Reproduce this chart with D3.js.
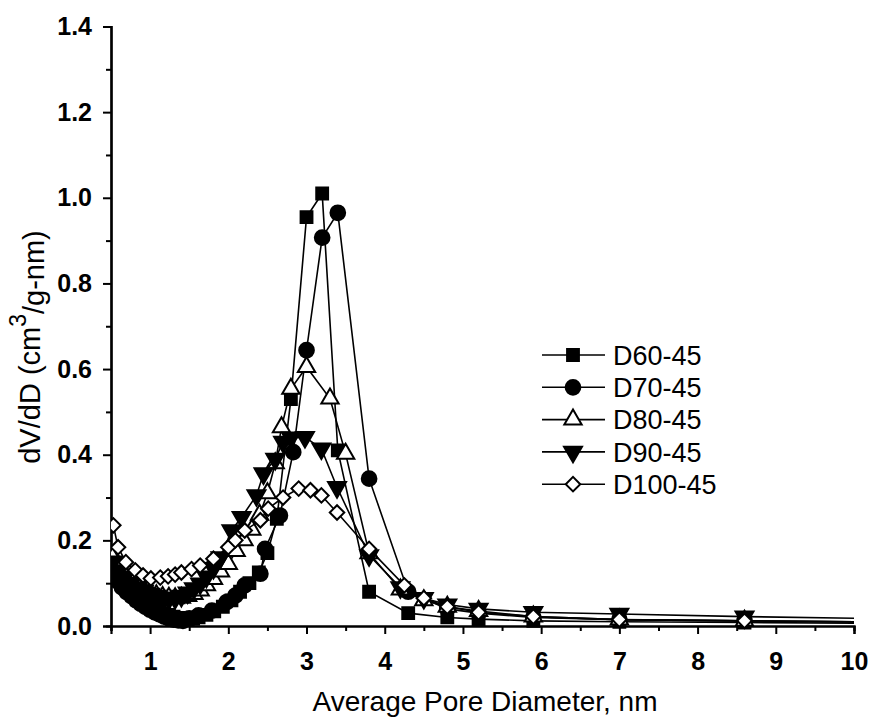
<!DOCTYPE html>
<html>
<head>
<meta charset="utf-8">
<script src="https://cdn.jsdelivr.net/npm/d3@7"></script>
<style>
  html, body { margin: 0; padding: 0; background: #fff; }
  svg { display: block; }
  text { font-family: "Liberation Sans", Arial, sans-serif; fill: #000; }
</style>
</head>
<body>
<svg id="chart" width="874" height="724"></svg>
<script>
// ---------------- DATA ----------------
const seriesNames = ["D60-45", "D70-45", "D80-45", "D90-45", "D100-45"];

const d60x = [0.52,0.58,0.64,0.70,0.76,0.82,0.88,0.94,1.00,1.06,1.12,1.18,1.24,1.30,1.36,1.42,1.48,1.55,1.62,1.72,1.82,1.93,2.04,2.15,2.27,2.39,2.50,2.62,2.80,3.00,3.20,3.40,3.80,4.30,4.80,5.20,5.90,7.00,8.60,11.5];
const d60y = [0.130,0.115,0.100,0.088,0.078,0.068,0.060,0.052,0.046,0.040,0.035,0.030,0.026,0.022,0.019,0.017,0.016,0.017,0.020,0.026,0.034,0.045,0.060,0.080,0.100,0.125,0.170,0.250,0.530,0.955,1.010,0.410,0.080,0.030,0.020,0.016,0.012,0.010,0.008,0.005];

const d70x = [0.52,0.58,0.64,0.70,0.76,0.82,0.88,0.94,1.00,1.06,1.12,1.18,1.24,1.30,1.36,1.42,1.50,1.62,1.79,1.98,2.09,2.21,2.41,2.47,2.66,2.83,3.00,3.20,3.40,3.80,4.30,4.80,5.20,5.90,7.00,8.60,11.5];
const d70y = [0.120,0.105,0.090,0.079,0.070,0.060,0.052,0.045,0.038,0.032,0.027,0.022,0.018,0.015,0.013,0.012,0.018,0.025,0.036,0.056,0.071,0.095,0.122,0.180,0.258,0.406,0.644,0.907,0.965,0.344,0.080,0.040,0.030,0.020,0.015,0.012,0.007];

const d80x = [0.52,0.60,0.68,0.76,0.84,0.92,1.00,1.08,1.16,1.24,1.32,1.40,1.48,1.56,1.64,1.72,1.81,1.90,2.00,2.10,2.20,2.30,2.40,2.50,2.60,2.68,2.80,3.00,3.30,3.50,3.80,4.20,4.50,4.80,5.20,5.90,7.00,8.60,11.5];
const d80y = [0.160,0.140,0.120,0.105,0.095,0.085,0.078,0.072,0.068,0.066,0.065,0.066,0.070,0.075,0.083,0.095,0.110,0.127,0.145,0.175,0.200,0.225,0.260,0.310,0.380,0.464,0.554,0.605,0.531,0.402,0.170,0.085,0.060,0.045,0.035,0.022,0.015,0.012,0.007];

const d90x = [0.52,0.60,0.68,0.76,0.84,0.92,1.00,1.08,1.16,1.24,1.32,1.40,1.48,1.56,1.64,1.72,1.81,1.90,2.04,2.17,2.36,2.45,2.60,2.70,2.80,2.98,3.19,3.39,3.80,4.20,4.50,4.80,5.20,5.90,7.00,8.60,11.5];
const d90y = [0.150,0.130,0.115,0.100,0.090,0.082,0.075,0.070,0.066,0.064,0.065,0.070,0.078,0.088,0.099,0.115,0.135,0.160,0.223,0.254,0.305,0.356,0.390,0.430,0.440,0.441,0.414,0.324,0.165,0.090,0.065,0.050,0.040,0.032,0.028,0.022,0.014];

const d100x = [0.53,0.59,0.69,0.81,0.91,1.01,1.13,1.23,1.32,1.40,1.53,1.64,1.81,2.00,2.09,2.21,2.41,2.51,2.70,2.90,3.05,3.19,3.39,3.80,4.25,4.50,4.80,5.20,5.90,7.00,8.60,11.5];
const d100y = [0.235,0.184,0.149,0.130,0.118,0.111,0.113,0.116,0.120,0.125,0.133,0.141,0.157,0.184,0.200,0.223,0.247,0.274,0.300,0.321,0.317,0.305,0.265,0.180,0.095,0.065,0.045,0.032,0.022,0.015,0.012,0.007];

const xTicks = [1,2,3,4,5,6,7,8,9,10];
const yTicks = [0.0,0.2,0.4,0.6,0.8,1.0,1.2,1.4];

// ---------------- CHART ----------------
const svg = d3.select("#chart");
const x = d3.scaleLinear().domain([0.5, 10]).range([111, 854]);
const y = d3.scaleLinear().domain([0, 1.4]).range([626, 26.5]);

const allX = [d60x, d70x, d80x, d90x, d100x];
const allY = [d60y, d70y, d80y, d90y, d100y];
const series = seriesNames.map((name, i) => ({
  name,
  points: allX[i].map((xv, j) => ({ x: xv, y: allY[i][j] }))
}));

const markerStyles = [
  { type: d3.symbolSquare, size: 140, rot: 0, fill: "#000" },
  { type: d3.symbolCircle, size: 170, rot: 0, fill: "#000" },
  { type: d3.symbolTriangle, size: 130, rot: 0, fill: "#fff" },
  { type: d3.symbolTriangle, size: 140, rot: 180, fill: "#000" },
  { type: d3.symbolSquare, size: 105, rot: 45, fill: "#fff" }
];

// clip to plot area
svg.append("defs").append("clipPath").attr("id", "plotclip")
  .append("rect").attr("x", x(0.5)).attr("y", 0)
  .attr("width", x(10) - x(0.5)).attr("height", y(0) + 10);

// axes
const xAxis = d3.axisBottom(x).tickValues(xTicks).tickSize(8).tickPadding(18).tickFormat(d3.format("d"));
const xMinor = d3.axisBottom(x).tickValues(d3.range(0.5, 10.01, 0.5).filter(v => Math.abs(v - Math.round(v)) > 0.01)).tickSize(5).tickFormat("");
const yAxis = d3.axisLeft(y).tickValues(yTicks).tickSize(8).tickPadding(11).tickFormat(d3.format(".1f"));
const yMinor = d3.axisLeft(y).tickValues(d3.range(0.1, 1.4, 0.2)).tickSize(5).tickFormat("");

function styleAxis(g) {
  g.select(".domain").attr("stroke", "#000").attr("stroke-width", 2.2);
  g.selectAll(".tick line").attr("stroke", "#000").attr("stroke-width", 2);
  g.selectAll(".tick text").style("font-size", "25px").style("font-weight", "bold").attr("fill", "#000");
}

svg.append("g").attr("transform", `translate(0,${y(0)})`).call(xMinor).call(styleAxis);
svg.append("g").attr("transform", `translate(0,${y(0)})`).call(xAxis).call(styleAxis);
svg.append("g").attr("transform", `translate(${x(0.5)},0)`).call(yMinor).call(styleAxis);
svg.append("g").attr("transform", `translate(${x(0.5)},0)`).call(yAxis).call(styleAxis);

// lines and markers
const line = d3.line().x(d => x(d.x)).y(d => y(d.y));
const plot = svg.append("g").attr("clip-path", "url(#plotclip)");
series.forEach((s, i) => {
  const g = plot.append("g");
  g.append("path").datum(s.points).attr("d", line)
    .attr("fill", "none").attr("stroke", "#000").attr("stroke-width", 1.6);
  const m = markerStyles[i];
  g.selectAll("path.mk").data(s.points).enter().append("path").attr("class", "mk")
    .attr("d", d3.symbol().type(m.type).size(m.size))
    .attr("transform", d => `translate(${x(d.x)},${y(d.y)}) rotate(${m.rot})`)
    .attr("fill", m.fill).attr("stroke", "#000").attr("stroke-width", 2);
});

// legend
const legend = svg.append("g");
const legY0 = 355, legDY = 32.3;
series.forEach((s, i) => {
  const ly = legY0 + i * legDY;
  legend.append("line").attr("x1", 542).attr("x2", 605).attr("y1", ly).attr("y2", ly)
    .attr("stroke", "#000").attr("stroke-width", 1.6);
  const m = markerStyles[i];
  legend.append("path").attr("d", d3.symbol().type(m.type).size(m.size))
    .attr("transform", `translate(573,${ly}) rotate(${m.rot})`)
    .attr("fill", m.fill).attr("stroke", "#000").attr("stroke-width", 2);
  legend.append("text").attr("x", 613).attr("y", ly).attr("dy", "0.36em")
    .style("font-size", "27px").text(s.name);
});

// axis titles
svg.append("text").attr("x", 485).attr("y", 711)
  .attr("text-anchor", "middle").style("font-size", "28px").text("Average Pore Diameter, nm");

const yt = svg.append("text").attr("transform", "translate(40,347) rotate(-90)")
  .attr("text-anchor", "middle").style("font-size", "29px");
yt.append("tspan").text("dV/dD (cm");
yt.append("tspan").attr("dy", "-0.6em").style("font-size", "23px").text("3");
yt.append("tspan").attr("dy", "0.6em").text("/g-nm)");
</script>
</body>
</html>
